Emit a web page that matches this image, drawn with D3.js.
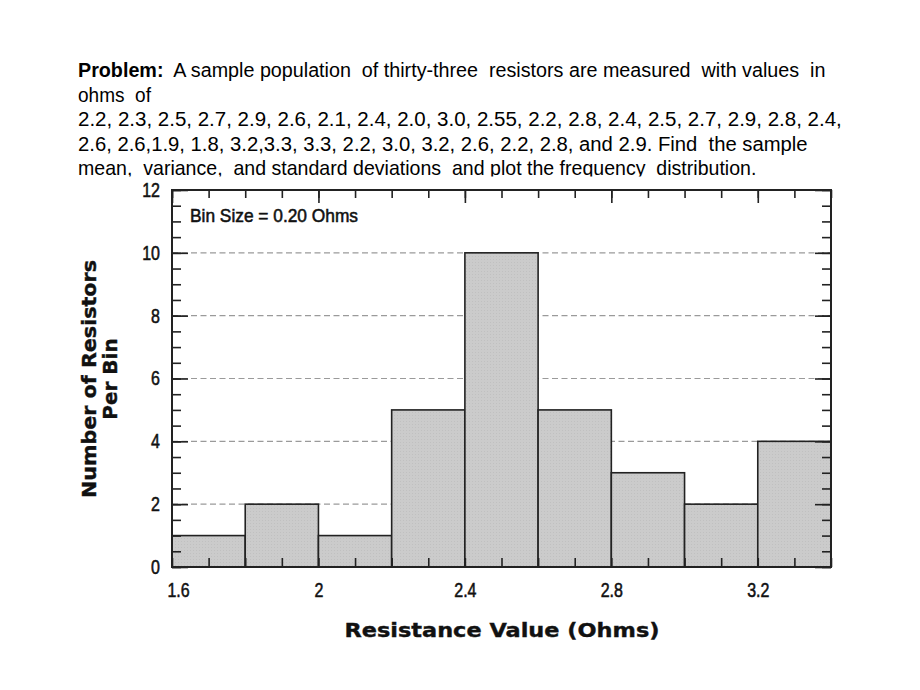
<!DOCTYPE html>
<html>
<head>
<meta charset="UTF-8">
<title>Resistor frequency distribution</title>
<script src="https://d3js.org/d3.v7.min.js"></script>
<style>
  body { margin: 0; padding: 0; background: #fff; overflow: hidden; }
  svg { display: block; }
  .prob { font-family: 'Liberation Sans', Arial, sans-serif; font-size: 21px; fill: #000; }
  .narrow { font-family: 'Liberation Sans', Arial, sans-serif; fill: #111; stroke: #111; stroke-width: 0.55px; }
  .title { font-family: 'DejaVu Sans', Verdana, sans-serif; font-weight: bold; font-size: 20px; fill: #111; stroke: #111; stroke-width: 0.4px; }
</style>
</head>
<body>
<div id="chart"></div>
<script>
  // problem statement, line by line
  const problemLines = [
    "A sample population  of thirty-three  resistors are measured  with values  in",
    "ohms  of",
    "2.2, 2.3, 2.5, 2.7, 2.9, 2.6, 2.1, 2.4, 2.0, 3.0, 2.55, 2.2, 2.8, 2.4, 2.5, 2.7, 2.9, 2.8, 2.4,",
    "2.6, 2.6,1.9, 1.8, 3.2,3.3, 3.3, 2.2, 3.0, 3.2, 2.6, 2.2, 2.8, and 2.9. Find  the sample",
    "mean,  variance,  and standard deviations  and plot the frequency  distribution."
  ];
  const lineRight = [826, 151, 842, 808, 757];

  // histogram data
  const binStarts = [1.6, 1.8, 2.0, 2.2, 2.4, 2.6, 2.8, 3.0, 3.2];
  const counts = [1, 2, 1, 5, 10, 5, 3, 2, 4];
  const binSize = 0.2;
  const xTickLabels = [1.6, 2.0, 2.4, 2.8, 3.2];
  const yTickLabels = [0, 2, 4, 6, 8, 10, 12];
  const gridValues = [2, 4, 6, 8, 10];

  const width = 920, height = 690;
  const svg = d3.select("#chart").append("svg")
    .attr("width", width).attr("height", height);

  // squeeze text horizontally, no narrow font installed
  function narrowify(sel, k) {
    sel.each(function () {
      const w = this.getComputedTextLength();
      d3.select(this).attr("textLength", w * k).attr("lengthAdjust", "spacingAndGlyphs");
    });
  }

  // text first, the chart's white box covers the bottom of it
  const baseY = 77, lineGap = 24.6;
  problemLines.forEach((line, i) => {
    const t = svg.append("text").attr("class", "prob")
      .attr("x", 0).attr("y", 0).attr("xml:space", "preserve");
    if (i === 0) {
      t.append("tspan").attr("font-weight", "bold").text("Problem:");
      t.append("tspan").text("  " + line);
    } else {
      t.text(line);
    }
    const w = t.node().getComputedTextLength();
    const sx = (lineRight[i] - 78) / w;
    t.attr("transform", `translate(78,${baseY + i * lineGap}) scale(${sx},1)`);
  });

  svg.append("rect").attr("x", 0).attr("y", 176.5)
    .attr("width", width).attr("height", height - 176.5).attr("fill", "#fff");

  const x = d3.scaleLinear().domain([1.6, 3.4]).range([172, 831]);
  const y = d3.scaleLinear().domain([0, 12]).range([567, 190]);

  // light speckled fill like the scanned bars
  const defs = svg.append("defs");
  const pat = defs.append("pattern").attr("id", "speck")
    .attr("width", 3).attr("height", 3).attr("patternUnits", "userSpaceOnUse");
  pat.append("rect").attr("width", 3).attr("height", 3).attr("fill", "#cbcbcb");
  pat.append("rect").attr("x", 1).attr("y", 1).attr("width", 1).attr("height", 1).attr("fill", "#c0c0c0");

  // dashed gridlines
  svg.append("g").selectAll("line").data(gridValues).enter().append("line")
    .attr("x1", x(1.6)).attr("x2", x(3.4))
    .attr("y1", d => y(d)).attr("y2", d => y(d))
    .attr("stroke", "#9a9a9a").attr("stroke-width", 1.2)
    .attr("stroke-dasharray", "6,3.5");

  // bars
  svg.append("g").selectAll("rect").data(binStarts).enter().append("rect")
    .attr("x", d => x(d))
    .attr("width", d => x(d + binSize) - x(d))
    .attr("y", (d, i) => y(counts[i]))
    .attr("height", (d, i) => y(0) - y(counts[i]))
    .attr("fill", "url(#speck)")
    .attr("stroke", "#222").attr("stroke-width", 1.6);

  // inward ticks on all four sides
  const minorX = d3.range(16, 35).map(v => v / 10);
  const majorX = d3.range(16, 35, 4).map(v => v / 10);
  const minorY = d3.range(0, 25).map(v => v / 2);
  const majorY = d3.range(0, 13, 2);

  function tickAxis(axis, vals, len, transform) {
    const g = svg.append("g").attr("transform", transform)
      .call(axis.tickValues(vals).tickSize(-len).tickFormat(""));
    g.select(".domain").remove();
    g.selectAll(".tick line").attr("stroke", "#222").attr("stroke-width", 1.6);
    return g;
  }
  tickAxis(d3.axisBottom(x), minorX, 9, "translate(0,567)");
  tickAxis(d3.axisTop(x), minorX, 8, "translate(0,190)");
  tickAxis(d3.axisTop(x), majorX, 13, "translate(0,190)");
  tickAxis(d3.axisLeft(y), minorY, 9, "translate(172,0)");
  tickAxis(d3.axisLeft(y), majorY, 16, "translate(172,0)");
  tickAxis(d3.axisRight(y), minorY, 9, "translate(831,0)");
  tickAxis(d3.axisRight(y), majorY, 16, "translate(831,0)");

  // frame
  svg.append("rect").attr("x", x(1.6)).attr("y", y(12))
    .attr("width", x(3.4) - x(1.6)).attr("height", y(0) - y(12))
    .attr("fill", "none").attr("stroke", "#222").attr("stroke-width", 2);

  // tick labels
  const yLab = svg.append("g").attr("transform", "translate(172,0)")
    .call(d3.axisLeft(y).tickValues(yTickLabels).tickSize(0).tickPadding(12));
  yLab.select(".domain").remove();
  yLab.selectAll("text").attr("class", "narrow").style("font-size", "20px")
    .attr("font-family", null).attr("fill", null);
  narrowify(yLab.selectAll("text"), 0.8);

  const xLab = svg.append("g").attr("transform", "translate(0,567)")
    .call(d3.axisBottom(x).tickValues(xTickLabels).tickSize(0).tickPadding(16)
      .tickFormat(d => d3.format("")(d)));
  xLab.select(".domain").remove();
  xLab.selectAll("text").attr("class", "narrow").style("font-size", "20px")
    .attr("font-family", null).attr("fill", null)
    .attr("dx", d => d === 1.6 ? 6 : 0);
  narrowify(xLab.selectAll("text"), 0.8);

  svg.append("text").attr("class", "narrow").style("font-size", "18.5px")
    .attr("x", 190).attr("y", 222)
    .attr("textLength", 168).attr("lengthAdjust", "spacingAndGlyphs")
    .text("Bin Size = 0.20 Ohms");

  // axis titles
  svg.append("text").attr("class", "title")
    .attr("x", 502).attr("y", 637).attr("text-anchor", "middle")
    .attr("textLength", 315).attr("lengthAdjust", "spacingAndGlyphs")
    .text("Resistance Value (Ohms)");

  const yt = svg.append("g").attr("transform", "translate(0,379) rotate(-90)");
  yt.append("text").attr("class", "title").attr("x", 0).attr("y", 96)
    .attr("text-anchor", "middle")
    .attr("textLength", 238).attr("lengthAdjust", "spacingAndGlyphs")
    .text("Number of Resistors");
  yt.append("text").attr("class", "title").attr("x", 0).attr("y", 117)
    .attr("text-anchor", "middle").text("Per Bin");
</script>
</body>
</html>
